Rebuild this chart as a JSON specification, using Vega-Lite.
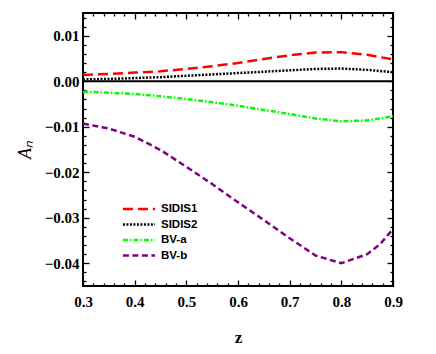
{
  "$schema": "https://vega.github.io/schema/vega-lite/v6.json",
  "width": 310,
  "height": 273,
  "autosize": {"type": "none"},
  "padding": {"left": 83, "top": 13, "right": 43, "bottom": 68},
  "background": "white",
  "config": {
    "view": {"stroke": "black", "strokeWidth": 2},
    "axis": {
      "domain": false, "ticks": true, "tickColor": "#000000", "tickWidth": 1.3, "tickOpacity": 1,
      "labelFont": "Liberation Serif", "labelFontWeight": "bold", "labelFontSize": 15, "labelColor": "black",
      "titleFont": "Liberation Serif", "titleFontWeight": "bold", "titleFontSize": 17, "titleColor": "black",
      "grid": false
    }
  },
  "datasets": {
    "curves": [
      {"z": 0.30, "A": 0.0014, "series": "SIDIS1"},
      {"z": 0.35, "A": 0.0016, "series": "SIDIS1"},
      {"z": 0.40, "A": 0.0019, "series": "SIDIS1"},
      {"z": 0.45, "A": 0.0022, "series": "SIDIS1"},
      {"z": 0.50, "A": 0.0027, "series": "SIDIS1"},
      {"z": 0.55, "A": 0.0033, "series": "SIDIS1"},
      {"z": 0.60, "A": 0.0040, "series": "SIDIS1"},
      {"z": 0.65, "A": 0.0049, "series": "SIDIS1"},
      {"z": 0.70, "A": 0.0057, "series": "SIDIS1"},
      {"z": 0.75, "A": 0.0063, "series": "SIDIS1"},
      {"z": 0.80, "A": 0.0064, "series": "SIDIS1"},
      {"z": 0.85, "A": 0.0058, "series": "SIDIS1"},
      {"z": 0.90, "A": 0.0048, "series": "SIDIS1"},
      {"z": 0.30, "A": 0.0004, "series": "SIDIS2"},
      {"z": 0.35, "A": 0.0005, "series": "SIDIS2"},
      {"z": 0.40, "A": 0.0007, "series": "SIDIS2"},
      {"z": 0.45, "A": 0.0009, "series": "SIDIS2"},
      {"z": 0.50, "A": 0.0012, "series": "SIDIS2"},
      {"z": 0.55, "A": 0.0015, "series": "SIDIS2"},
      {"z": 0.60, "A": 0.0018, "series": "SIDIS2"},
      {"z": 0.65, "A": 0.0021, "series": "SIDIS2"},
      {"z": 0.70, "A": 0.0024, "series": "SIDIS2"},
      {"z": 0.75, "A": 0.0027, "series": "SIDIS2"},
      {"z": 0.80, "A": 0.0028, "series": "SIDIS2"},
      {"z": 0.85, "A": 0.0025, "series": "SIDIS2"},
      {"z": 0.90, "A": 0.0020, "series": "SIDIS2"},
      {"z": 0.30, "A": -0.0023, "series": "BV-a"},
      {"z": 0.35, "A": -0.0025, "series": "BV-a"},
      {"z": 0.40, "A": -0.0028, "series": "BV-a"},
      {"z": 0.45, "A": -0.0033, "series": "BV-a"},
      {"z": 0.50, "A": -0.0039, "series": "BV-a"},
      {"z": 0.55, "A": -0.0046, "series": "BV-a"},
      {"z": 0.60, "A": -0.0054, "series": "BV-a"},
      {"z": 0.65, "A": -0.0063, "series": "BV-a"},
      {"z": 0.70, "A": -0.0072, "series": "BV-a"},
      {"z": 0.75, "A": -0.0082, "series": "BV-a"},
      {"z": 0.80, "A": -0.0088, "series": "BV-a"},
      {"z": 0.85, "A": -0.0086, "series": "BV-a"},
      {"z": 0.90, "A": -0.0077, "series": "BV-a"},
      {"z": 0.30, "A": -0.0093, "series": "BV-b"},
      {"z": 0.35, "A": -0.0104, "series": "BV-b"},
      {"z": 0.40, "A": -0.0122, "series": "BV-b"},
      {"z": 0.45, "A": -0.0151, "series": "BV-b"},
      {"z": 0.50, "A": -0.0188, "series": "BV-b"},
      {"z": 0.55, "A": -0.0226, "series": "BV-b"},
      {"z": 0.60, "A": -0.0266, "series": "BV-b"},
      {"z": 0.65, "A": -0.0305, "series": "BV-b"},
      {"z": 0.70, "A": -0.0345, "series": "BV-b"},
      {"z": 0.75, "A": -0.0383, "series": "BV-b"},
      {"z": 0.80, "A": -0.0400, "series": "BV-b"},
      {"z": 0.85, "A": -0.0380, "series": "BV-b"},
      {"z": 0.875, "A": -0.0358, "series": "BV-b"},
      {"z": 0.90, "A": -0.0325, "series": "BV-b"}
    ],
    "zero": [{"z0": 0.3, "z1": 0.9, "A": 0}]
  },
  "layer": [
    {
      "data": {"name": "zero"},
      "mark": {"type": "rule", "color": "black", "strokeWidth": 2},
      "encoding": {
        "x": {"field": "z0", "type": "quantitative", "scale": {"domain": [0.3, 0.9], "nice": false, "zero": false},
          "axis": {"orient": "bottom", "title": "z", "titlePadding": 20, "offset": -6, "tickSize": 6,
            "values": [0.3, 0.4, 0.5, 0.6, 0.7, 0.8, 0.9], "format": ".1f",
            "labelPadding": 8, "labelFlush": false}},
        "x2": {"field": "z1"},
        "y": {"field": "A", "type": "quantitative", "scale": {"domain": [-0.045, 0.015], "nice": false, "zero": false},
          "axis": {"orient": "left", "title": "Aₙ", "titleFontStyle": "italic", "titleFontWeight": "normal", "titleFontSize": 18, "titlePadding": 10,
            "offset": -6, "tickSize": 6,
            "values": [-0.04, -0.03, -0.02, -0.01, 0, 0.01], "format": ".2f",
            "labelPadding": 4}}
      }
    },
    {
      "data": {"name": "curves"},
      "mark": {"type": "line", "strokeWidth": 2.5},
      "encoding": {
        "x": {"field": "z", "type": "quantitative",
          "axis": {"orient": "top", "title": null, "labels": false, "offset": -6, "tickSize": 6,
            "values": [0.3, 0.4, 0.5, 0.6, 0.7, 0.8, 0.9]}},
        "y": {"field": "A", "type": "quantitative",
          "axis": {"orient": "right", "title": null, "labels": false, "offset": -6, "tickSize": 6,
            "values": [-0.04, -0.03, -0.02, -0.01, 0, 0.01]}},
        "color": {"field": "series", "type": "nominal",
          "scale": {"domain": ["SIDIS1", "SIDIS2", "BV-a", "BV-b"], "range": ["#ff0000", "#000000", "#00ff00", "#800080"]},
          "legend": {"orient": "none", "legendX": 49, "legendY": 189, "title": null, "padding": 0,
            "symbolType": "M-3,0H3", "symbolSize": 115, "symbolStrokeWidth": 2.5, "symbolFillColor": "transparent",
            "labelOffset": 15, "labelFont": "Liberation Sans", "labelFontWeight": "bold", "labelFontSize": 11.5,
            "labelColor": "black", "rowPadding": 2.5}},
        "strokeDash": {"field": "series", "type": "nominal",
          "scale": {"domain": ["SIDIS1", "SIDIS2", "BV-a", "BV-b"], "range": [[10, 5], [2, 1.5], [5, 2, 1.5, 2], [6, 3.5]]},
          "legend": null},
        "order": {"field": "z", "type": "quantitative"}
      }
    },
    {
      "data": {"name": "zero"},
      "mark": {"type": "rule", "opacity": 0},
      "encoding": {
        "x": {"field": "z0", "type": "quantitative",
          "axis": {"orient": "bottom", "title": null, "labels": false, "offset": -3, "tickSize": 3,
            "values": [0.32,0.34,0.36,0.38,0.42,0.44,0.46,0.48,0.52,0.54,0.56,0.58,0.62,0.64,0.66,0.68,0.72,0.74,0.76,0.78,0.82,0.84,0.86,0.88]}},
        "x2": {"field": "z1"},
        "y": {"field": "A", "type": "quantitative",
          "axis": {"orient": "left", "title": null, "labels": false, "offset": -3, "tickSize": 3,
            "values": [-0.044,-0.042,-0.038,-0.036,-0.034,-0.032,-0.028,-0.026,-0.024,-0.022,-0.018,-0.016,-0.014,-0.012,-0.008,-0.006,-0.004,-0.002,0.002,0.004,0.006,0.008,0.012,0.014]}}
      }
    },
    {
      "data": {"name": "zero"},
      "mark": {"type": "rule", "opacity": 0},
      "encoding": {
        "x": {"field": "z0", "type": "quantitative",
          "axis": {"orient": "top", "title": null, "labels": false, "offset": -3, "tickSize": 3,
            "values": [0.32,0.34,0.36,0.38,0.42,0.44,0.46,0.48,0.52,0.54,0.56,0.58,0.62,0.64,0.66,0.68,0.72,0.74,0.76,0.78,0.82,0.84,0.86,0.88]}},
        "x2": {"field": "z1"},
        "y": {"field": "A", "type": "quantitative",
          "axis": {"orient": "right", "title": null, "labels": false, "offset": -3, "tickSize": 3,
            "values": [-0.044,-0.042,-0.038,-0.036,-0.034,-0.032,-0.028,-0.026,-0.024,-0.022,-0.018,-0.016,-0.014,-0.012,-0.008,-0.006,-0.004,-0.002,0.002,0.004,0.006,0.008,0.012,0.014]}}
      }
    }
  ],
  "resolve": {"axis": {"x": "independent", "y": "independent"}}
}
